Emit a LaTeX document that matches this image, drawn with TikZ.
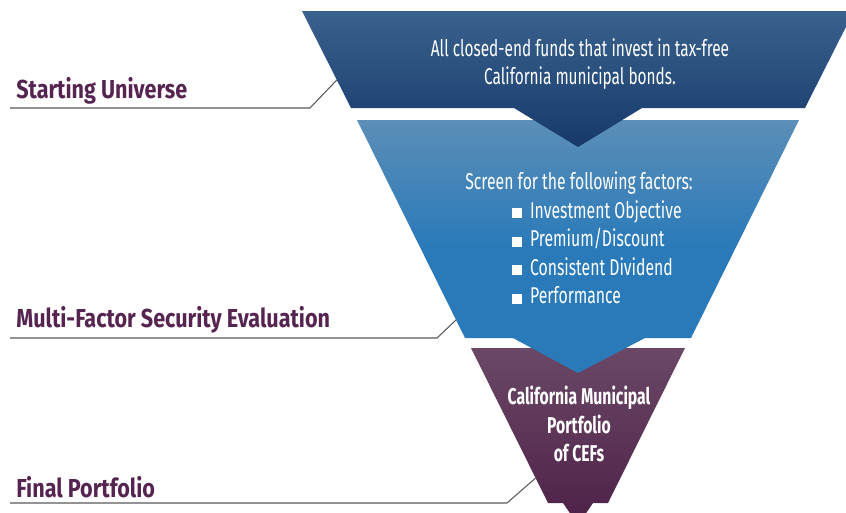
\documentclass[tikz,border=0pt]{standalone}
\usepackage{fontspec}
\setmainfont{Fira Sans}[FakeStretch=0.69]
\newfontfamily\topfont{Fira Sans}[FakeStretch=0.674]
\newfontfamily\lblfont{Fira Sans}[FakeStretch=0.83]
\usetikzlibrary{calc}

\definecolor{navytop}{RGB}{58,98,142}
\definecolor{navybot}{RGB}{22,57,106}
\definecolor{steeltop}{RGB}{92,142,184}
\definecolor{steelbot}{RGB}{42,122,185}
\definecolor{plumtop}{RGB}{106,72,102}
\definecolor{plumbot}{RGB}{78,33,72}
\definecolor{labelplum}{RGB}{85,36,80}

\newcommand{\sqbullet}{\rule{5.6pt}{5.6pt}\hspace{4.5pt}}

\tikzset{
  stagelabel/.style={anchor=base west, inner sep=0pt, text=labelplum,
    font=\lblfont\bfseries\fontsize{14.8}{16}\selectfont},
  leader/.style={draw=black!65, line width=0.6pt},
  boxtext/.style={inner sep=0pt, text=white, align=center,
    font=\fontsize{13}{15.6}\selectfont},
}

\begin{document}
\begin{tikzpicture}[x=0.02cm, y=-0.02cm]
                \useasboundingbox (0,0) rectangle (846,512);
                % Funnel corners:
                \coordinate (top-nw) at (302,11);
                \coordinate (top-sw) at (351,108);
                \coordinate (mid-nw) at (357,120);
                \coordinate (mid-sw) at (465,338);
                \coordinate (low-nw) at (471,348);
                \coordinate (low-sw) at (548,503);
                % Funnel stages:
                \begin{scope}
                \clip (0,0) rectangle (846,512);
                \shade[top color=plumtop, bottom color=plumbot] (low-nw) -- (685,348) -- (608,503) -- (593,503) -- (578,525) -- (563,503) -- (low-sw) -- cycle;
                \shade[top color=steeltop, bottom color=steelbot, middle color=steelbot] (mid-nw) -- (799,120) -- (691,338) -- (645,338) -- (578,373) -- (513,338) -- (mid-sw) -- cycle;
                \shade[top color=navytop, bottom color=navybot] (top-nw) -- (854,11) -- (805,108) -- (642,108) -- (578,147) -- (514,108) -- (top-sw) -- cycle;
                \end{scope}
                % Texts in the funnel:
                \node[boxtext, font=\topfont\fontsize{13}{15.6}\selectfont] (universe) at (580,64) {All closed-end funds that invest in tax-free\\California municipal bonds.};
                \node[boxtext, anchor=base] (screen) at (579,189) {Screen for the following factors:};
                \node[boxtext, align=left, anchor=north west, font=\fontsize{13}{16.2}\selectfont] (factors) at (512,200) {\sqbullet Investment Objective\\\sqbullet Premium/Discount\\\sqbullet Consistent Dividend\\\sqbullet Performance};
                \node[boxtext, font=\bfseries\fontsize{13}{16.4}\selectfont] (portfolio) at (579,424) {California Municipal\\Portfolio\\of CEFs};
                % Stage labels and leaders:
                \node[stagelabel] (startlbl) at (16,98) {Starting Universe};
                \node[stagelabel] (evallbl) at (16,327) {Multi-Factor Security Evaluation};
                \node[stagelabel] (finallbl) at (16,497) {Final Portfolio};
                \coordinate (start-knee) at (310,108);
                \coordinate (eval-knee) at (437,338);
                \coordinate (final-knee) at (507,503);
                \draw[leader] ($(startlbl.base west)+(-6,10)$) -- (start-knee) -- ($(top-nw)!0.711!(top-sw)$);
                \draw[leader] ($(evallbl.base west)+(-6,11)$) -- (eval-knee) -- ($(mid-nw)!0.917!(mid-sw)$);
                \draw[leader] ($(finallbl.base west)+(-6,6)$) -- (final-knee) -- ($(low-nw)!0.839!(low-sw)$);
            \end{tikzpicture}
\end{document}
